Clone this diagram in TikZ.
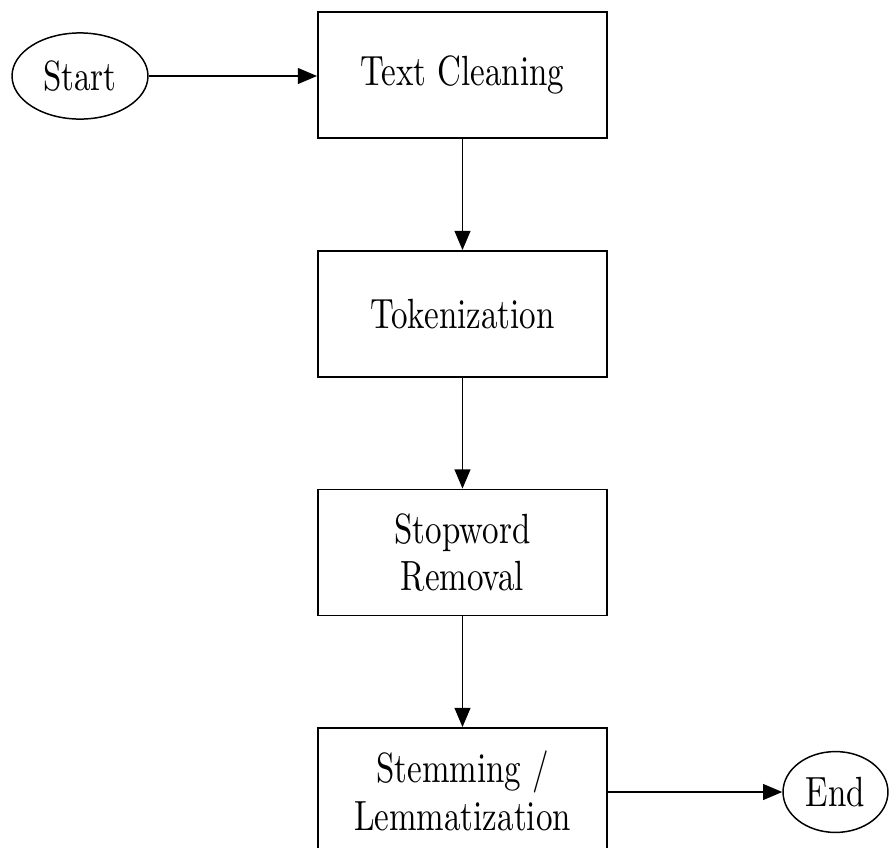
\documentclass[tikz,border=0pt]{standalone}
\usetikzlibrary{shapes.geometric,arrows.meta}
\newcommand{\vstretch}[1]{\scalebox{1}[1.28]{#1}}
\begin{document}
\begin{tikzpicture}[x=0.303pt,y=-0.303pt,
  procbox/.style={draw,line width=0.55pt,rectangle,minimum width=87.6pt,minimum height=38.2pt,inner sep=0pt,align=center,font={\fontsize{10}{14.5}\selectfont}},
  termnode/.style={draw,line width=0.45pt,ellipse,inner sep=0pt,font={\fontsize{10}{12}\selectfont}},
  flow/.style={line width=0.45pt,-{Triangle[length=5.8pt,width=4.8pt]}}]
\useasboundingbox (0,0) rectangle (890,847);
\node[termnode,minimum width=41.2pt,minimum height=26.1pt] (start) at (80,76) {\vstretch{Start}};
\node[procbox] (clean) at (462.5,75) {\vstretch{Text Cleaning}};
\node[procbox] (token) at (462.5,314) {\vstretch{Tokenization}};
\node[procbox] (stop) at (462.5,552.5) {\vstretch{Stopword}\\\vstretch{Removal}};
\node[procbox] (stem) at (462.5,791) {\vstretch{Stemming /}\\\vstretch{Lemmatization}};
\node[termnode,minimum width=31.8pt,minimum height=24.5pt] (end) at (835.5,792) {\vstretch{End}};
\draw[flow] (start.east) -- (clean.west |- start.east);
\draw[flow] (clean) -- (token);
\draw[flow] (token) -- (stop);
\draw[flow] (stop) -- (stem);
\draw[flow] (stem.east |- end) -- (end);
\end{tikzpicture}
\end{document}
